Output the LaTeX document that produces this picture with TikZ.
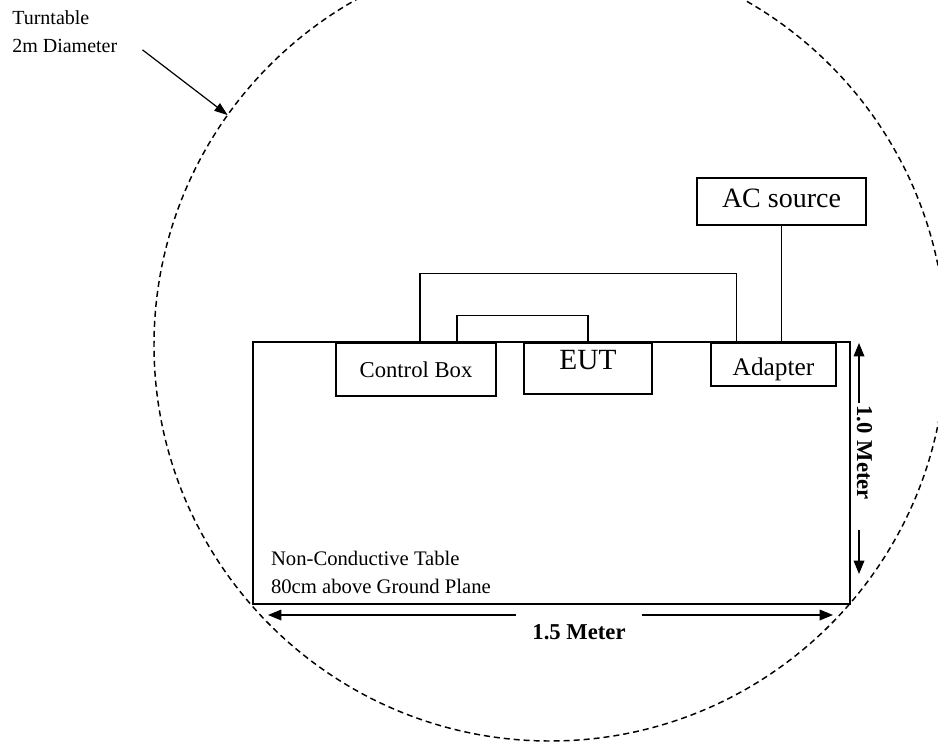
\documentclass[tikz,border=0pt]{standalone}
\usepackage{fontspec}
\setmainfont{Liberation Serif}
\usetikzlibrary{arrows.meta,positioning,calc}

\begin{document}
\begin{tikzpicture}[x=0.75pt,y=0.75pt,
  box/.style={draw,line width=1.2pt,inner sep=0pt},
  wire/.style={line width=0.9pt},
  dimarrow/.style={line width=0.9pt,-{Triangle[length=10pt,width=8pt]}},
  dimlabel/.style={font=\bfseries\fontsize{17}{20}\selectfont,inner sep=0pt}]
  \useasboundingbox (0,0) rectangle (938,744);
  %--------------- Turntable ---------------
  \coordinate (ctr) at (550,399);
  \draw[line width=1.1pt,dash pattern=on 4.5pt off 3pt] (ctr) circle [radius=396];
  \node[align=left,anchor=base west,inner sep=0pt,font=\fontsize{15}{21}\selectfont] (turn) at (12,691.3) {Turntable\\2m Diameter};
  \coordinate (rim) at ($(ctr)+(144.5:396)$);
  \draw[wire,-{Triangle[length=10pt,width=7pt]}] ([shift={(25,-18)}]turn.east) -- (rim);

  %--------------- Table ---------------
  \node[draw,line width=1.8pt,inner sep=0pt,minimum width=447.75pt,minimum height=196.5pt] (table) at (551.5,271) {};
  \node[align=left,anchor=base west,inner sep=0pt,font=\fontsize{15.5}{21}\selectfont] (tlbl) at ([shift={(19,11.3)}]table.south west) {Non-Conductive Table\\80cm above Ground Plane};

  %--------------- Devices ---------------
  \node[box,minimum width=120pt,minimum height=39.75pt,font=\fontsize{17}{20}\selectfont] (ctrl) at (416,374.5) {Control Box};
  \node[box,minimum width=96pt,minimum height=38.25pt,font=\fontsize{22}{26}\selectfont,text height=14.6pt,text depth=12.4pt] (eut) at (588,375.5) {EUT};
  \node[box,minimum width=93.75pt,minimum height=32.25pt,font=\fontsize{19}{22}\selectfont,text height=15.8pt,text depth=0pt] (adapter) at (773.5,379.5) {Adapter};
  \node[box,minimum width=126.75pt,minimum height=35.25pt,font=\fontsize{21}{24}\selectfont,text depth=5pt] (ac) at (781.5,542.5) {AC source};

  %--------------- Cables ---------------
  % control box -> adapter
  \draw[wire] ([xshift=3pt]ctrl.north) -- ++(0,69) -| ([xshift=19.5pt]adapter.north west);
  % control box -> EUT
  \draw[wire] ([xshift=30.75pt]ctrl.north) -- ++(0,27) -| (eut.north);
  % AC source -> adapter
  \draw[wire] (ac.south) -- (ac.south |- adapter.north);

  %--------------- Dimensions ---------------
  \node[dimlabel,minimum width=94.5pt] (wlbl) at (579,112) {1.5 Meter};
  \coordinate (wl) at (268,129);
  \coordinate (wr) at (833,129);
  \draw[dimarrow] (wlbl.west |- wl) -- (wl);
  \draw[dimarrow] (wlbl.east |- wr) -- (wr);
  \node[dimlabel,rotate=-90,minimum width=95.25pt,text width=92.25pt,inner xsep=1.5pt,align=left] (hlbl) at (864.5,277.5) {1.0 Meter};
  \coordinate (ht) at (859,401);
  \coordinate (hb) at (859,170);
  \draw[dimarrow] (hlbl.west -| ht) -- (ht);
  \draw[dimarrow] (hlbl.east -| hb) -- (hb);
\end{tikzpicture}
\end{document}
